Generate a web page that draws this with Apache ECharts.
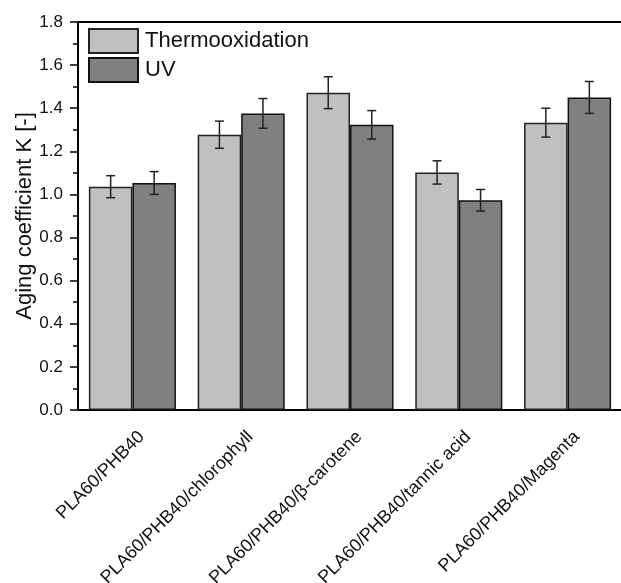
<!DOCTYPE html>
<html><head><meta charset="utf-8">
<script src="https://cdn.jsdelivr.net/npm/echarts@6/dist/echarts.min.js"></script>
<style>html,body{margin:0;padding:0;background:#fff}#c{width:621px;height:583px}</style>
</head><body><div id="c"></div>
<script>
const categories = ['PLA60/PHB40','PLA60/PHB40/chlorophyll','PLA60/PHB40/β-carotene','PLA60/PHB40/tannic acid','PLA60/PHB40/Magenta'];
const thermoValues = [1.036, 1.277, 1.472, 1.102, 1.333];
const thermoErrors = [0.051, 0.063, 0.074, 0.054, 0.067];
const uvValues = [1.053, 1.376, 1.323, 0.973, 1.450];
const uvErrors = [0.053, 0.069, 0.066, 0.050, 0.074];
const seriesNames = ['Thermooxidation', 'UV'];
const yTicks = ['0.0','0.2','0.4','0.6','0.8','1.0','1.2','1.4','1.6','1.8'];

const font = 'Arial, "Liberation Sans", sans-serif';
const chart = echarts.init(document.getElementById('c'), null, {renderer:'canvas'});

function errSeries(values, errors, side) {
  return {
    type: 'custom',
    xAxisIndex: 0,
    z: 10,
    data: values.map((v, i) => [i, v, errors[i]]),
    renderItem: function (params, api) {
      const i = api.value(0), v = api.value(1), e = api.value(2);
      const band = api.size([1, 0])[0];
      const off = side * band * 0.2;
      const top = api.coord([i, v + e]);
      const bot = api.coord([i, v - e]);
      const x = top[0] + off;
      const cap = 4.5;
      const st = {stroke: '#222', lineWidth: 1.5};
      return {type: 'group', children: [
        {type: 'line', shape: {x1: x, y1: top[1], x2: x, y2: bot[1]}, style: st},
        {type: 'line', shape: {x1: x - cap, y1: top[1], x2: x + cap, y2: top[1]}, style: st},
        {type: 'line', shape: {x1: x - cap, y1: bot[1], x2: x + cap, y2: bot[1]}, style: st}
      ]};
    }
  };
}

chart.setOption({
  animation: false,
  backgroundColor: '#fff',
  grid: {left: 78, right: -1, top: 22, bottom: 173, containLabel: false, outerBoundsMode: 'none'},
  legend: {
    orient: 'vertical', left: 88, top: 28, padding: 0, itemWidth: 49, itemHeight: 24, itemGap: 3,
    icon: 'rect',
    textStyle: {fontFamily: font, fontSize: 22, color: '#111', padding: [0,0,0,2]},
    data: seriesNames
  },
  xAxis: [
    {
      type: 'category', data: categories, position: 'bottom',
      axisLine: {lineStyle: {color: '#000', width: 2}},
      axisTick: {alignWithLabel: true, length: 8, lineStyle: {color: '#000', width: 1.5}},
      axisLabel: {rotate: 45, margin: 15, verticalAlign: 'top', padding: [4,0,0,0],
        fontFamily: font, fontSize: 18, color: '#111', interval: 0}
    },
    {
      type: 'category', data: categories, position: 'bottom',
      axisLine: {show: false},
      axisTick: {length: 4, lineStyle: {color: '#000', width: 1.5}},
      axisLabel: {show: false}
    },
    {
      type: 'category', data: categories, position: 'top',
      axisLine: {lineStyle: {color: '#000', width: 2}},
      axisTick: {show: false}, axisLabel: {show: false}
    }
  ],
  yAxis: {
    type: 'value', min: 0, max: 1.8, interval: 0.2,
    name: 'Aging coefficient K [-]', nameLocation: 'middle', nameGap: 42, nameMoveOverlap: false,
    nameTextStyle: {fontFamily: font, fontSize: 22, color: '#111'},
    axisLine: {show: true, lineStyle: {color: '#000', width: 2}},
    axisTick: {show: true, length: 8, lineStyle: {color: '#000', width: 1.5}},
    minorTick: {show: true, splitNumber: 2, length: 5, lineStyle: {color: '#000', width: 1.5}},
    splitLine: {show: false},
    axisLabel: {margin: 15, fontFamily: font, fontSize: 17, color: '#111',
      formatter: (v, idx) => yTicks[Math.round(v / 0.2)]}
  },
  series: [
    {
      name: seriesNames[0], type: 'bar', data: thermoValues, barGap: '0%', barCategoryGap: '20%',
      itemStyle: {color: '#c0c0c0', borderColor: '#222', borderWidth: 1.5}
    },
    {
      name: seriesNames[1], type: 'bar', data: uvValues, barGap: '0%', barCategoryGap: '20%',
      itemStyle: {color: '#808080', borderColor: '#111', borderWidth: 1.5}
    },
    errSeries(thermoValues, thermoErrors, -1),
    errSeries(uvValues, uvErrors, 1)
  ]
});
</script>
</body></html>
